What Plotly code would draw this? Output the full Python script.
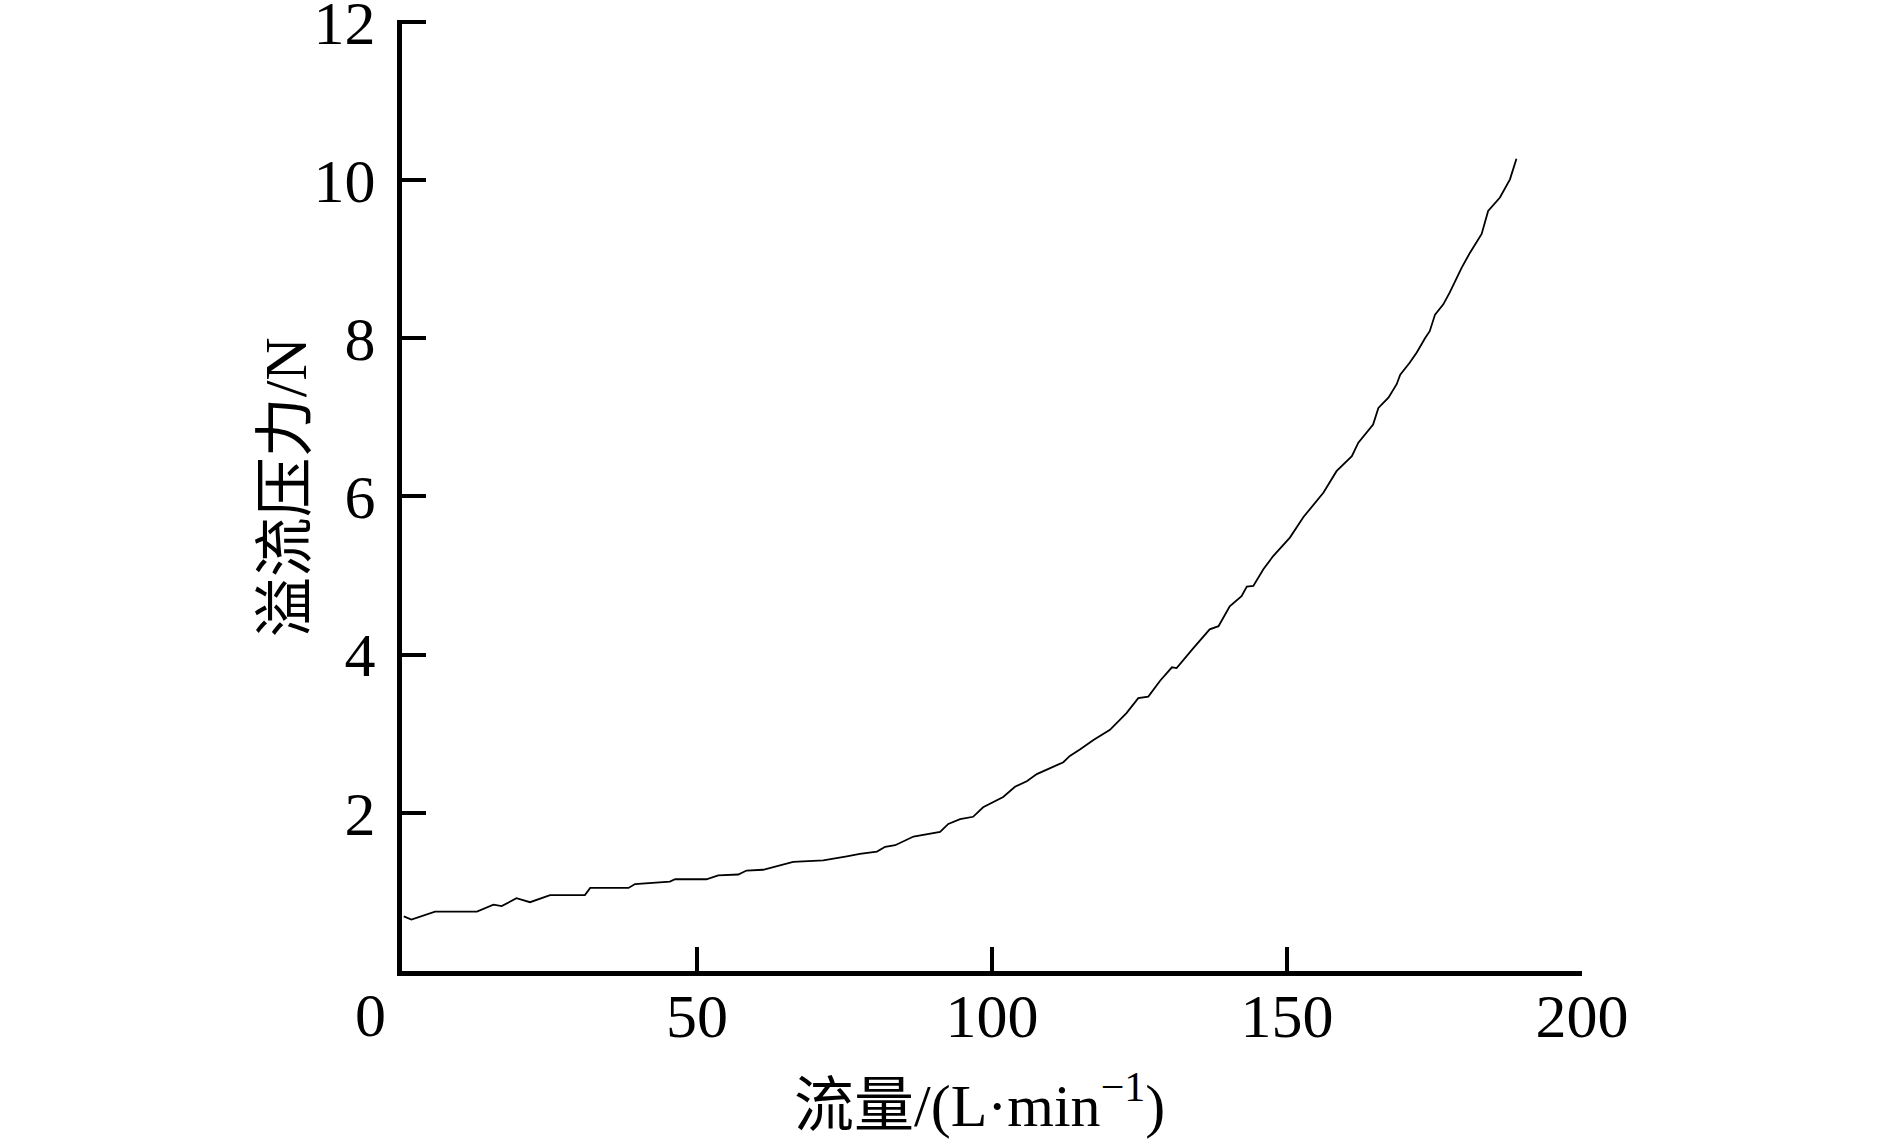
import plotly.graph_objects as go

# 流量 (L/min) 与 溢流压力 (N)
flow = [0.3, 1.6, 5.6, 12.7, 15.5, 16.9, 19.4, 21.7, 25.1, 31.0, 31.9, 38.4, 39.5,
        45.4, 46.3, 51.6, 53.6, 57.0, 58.4, 61.2, 66.3, 71.4, 75.4, 77.6, 80.5,
        81.9, 83.6, 86.7, 91.2, 92.6, 94.6, 96.8, 98.5, 101.9, 103.9, 105.9,
        107.6, 110.1, 112.1, 113.2, 114.9, 117.2, 120.0, 122.8, 124.8, 126.5,
        128.5, 130.5, 131.3, 134.1, 136.9, 138.4, 140.3, 142.3, 143.2, 144.3,
        146.0, 147.7, 150.5, 152.8, 155.3, 156.2, 158.4, 161.0, 162.1, 164.6,
        165.5, 167.2, 168.6, 169.2, 170.8, 172.0, 173.4, 174.2, 175.1, 176.5,
        177.6, 179.6, 181.0, 183.0, 184.1, 186.1, 187.8, 188.9]
force = [0.69, 0.65, 0.75, 0.75, 0.84, 0.82, 0.92, 0.87, 0.96, 0.96, 1.05, 1.05, 1.10,
         1.13, 1.16, 1.16, 1.21, 1.22, 1.27, 1.28, 1.38, 1.40, 1.45, 1.48, 1.51,
         1.57, 1.59, 1.70, 1.76, 1.86, 1.92, 1.95, 2.07, 2.20, 2.33, 2.40,
         2.49, 2.57, 2.64, 2.72, 2.80, 2.92, 3.05, 3.26, 3.45, 3.47,
         3.67, 3.84, 3.83, 4.08, 4.32, 4.36, 4.61, 4.74, 4.86, 4.87,
         5.08, 5.25, 5.48, 5.74, 5.96, 6.05, 6.32, 6.51, 6.68, 6.91,
         7.12, 7.25, 7.42, 7.54, 7.69, 7.82, 8.00, 8.09, 8.30, 8.43,
         8.58, 8.89, 9.08, 9.32, 9.61, 9.78, 10.01, 10.27]

x_ticks = [50, 100, 150, 200]
y_ticks = [2, 4, 6, 8, 10, 12]

FONT = "Liberation Serif, Noto Sans CJK SC, serif"

fig = go.Figure()
fig.add_trace(go.Scatter(x=flow, y=force, mode="lines",
                         line=dict(color="black", width=1.8), showlegend=False))

axis_style = dict(showgrid=False, zeroline=False, showline=True, linecolor="black",
                  linewidth=5, ticks="inside", ticklen=24, tickwidth=4, tickcolor="black",
                  ticklabeloverflow="allow",
                  tickfont=dict(family=FONT, size=62, color="black"))

fig.update_xaxes(range=[0, 200.01], tickvals=x_ticks, ticklabelstandoff=-13, **axis_style)
fig.update_yaxes(range=[0, 12.025], tickvals=y_ticks, ticklabelstandoff=9, **axis_style)

fig.update_layout(
    width=1889, height=1147,
    margin=dict(l=402, r=307, t=20, b=176, autoexpand=False),
    plot_bgcolor="white", paper_bgcolor="white",
    annotations=[
        dict(text="0", x=-0.027, y=-0.046, xref="paper", yref="paper",
             showarrow=False, xanchor="center", yanchor="middle",
             font=dict(family=FONT, size=62, color="black")),
        dict(text="流量/(L·min<sup>−1</sup>)", x=0.489, y=-0.137, xref="paper", yref="paper",
             showarrow=False, xanchor="center", yanchor="middle",
             font=dict(family=FONT, size=60, color="black")),
        dict(text="溢流压力/N", x=-0.098, y=0.509, xref="paper", yref="paper",
             showarrow=False, xanchor="center", yanchor="middle", textangle=-90,
             font=dict(family=FONT, size=60, color="black")),
    ],
)

# enlever la marge par défaut de la page
fig.write_html("out.html", config={"displayModeBar": False},
               post_script="document.body.style.margin='0';")
